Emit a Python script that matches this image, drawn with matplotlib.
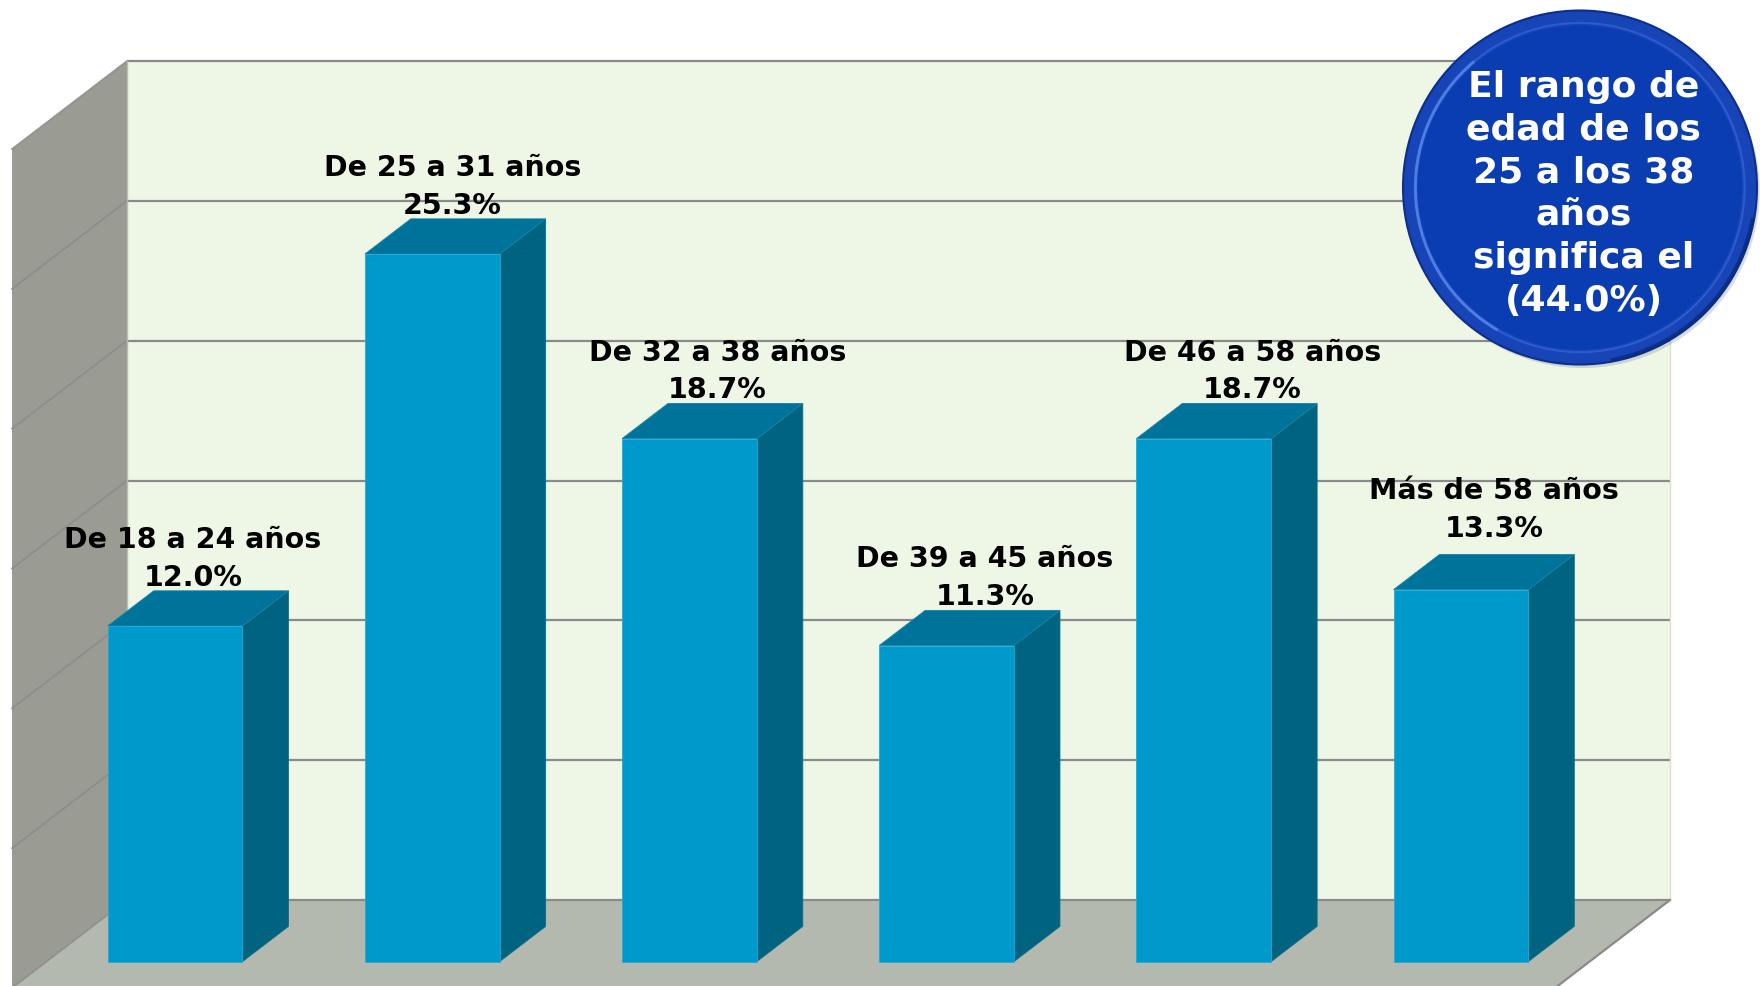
import matplotlib
matplotlib.use("Agg")
import matplotlib.pyplot as plt
from matplotlib.patches import Polygon, Circle, Arc

# ---- data -------------------------------------------------------------
categories = ["De 18 a 24 años", "De 25 a 31 años", "De 32 a 38 años",
              "De 39 a 45 años", "De 46 a 58 años", "Más de 58 años"]
values = [12.0, 25.3, 18.7, 11.3, 18.7, 13.3]
y_ticks = [0, 5, 10, 15, 20, 25, 30]
callout = "El rango de\nedad de los\n25 a los 38\naños\nsignifica el\n(44.0%)"

# small manual nudges for the data labels (category units, value units)
label_dx = [-0.02, -0.01, 0.02, 0.06, 0.10, 0.04]
label_dy = [0.0, 0.0, 0.0, 0.0, 0.0, 0.45]

# ---- style ------------------------------------------------------------
BACK = "#EEF6E6"
LEFT = "#9A9C93"
FLOOR = "#B4B9AF"
GRID = "#8A8A8A"
FRONT = "#0099CC"
TOP = "#00739A"
SIDE = "#00637F"

W_PX, H_PX, DPI = 1760, 987, 100
fig = plt.figure(figsize=(W_PX / DPI, H_PX / DPI), dpi=DPI)
fig.patch.set_facecolor("white")
ax = fig.add_axes([0, 0, 1, 1])
ax.set_axis_off()

n = len(values)
ymax = y_ticks[-1]
# plot area on the back wall, in pixels
left_px, right_px, top_px, base_px = 127, 1670, 62, 901
sx = (right_px - left_px) / n
sy = (base_px - top_px) / ymax
ax.set_xlim(-left_px / sx, n + (W_PX - right_px) / sx)
ax.set_ylim(-(H_PX - base_px) / sy, ymax + top_px / sy)

# oblique depth offsets for the full depth of the box
DX = -115 / sx
DY = -88 / sy


def proj(x, y, d):
    return (x + DX * d, y + DY * d)


# walls and floor
ax.add_patch(Polygon([(0, 0), (n, 0), (n, ymax), (0, ymax)],
                     closed=True, fc=BACK, ec="none", zorder=1))
ax.add_patch(Polygon([(0, 0), (0, ymax), proj(0, ymax, 1), proj(0, 0, 1)],
                     closed=True, fc=LEFT, ec="none", zorder=1))
ax.add_patch(Polygon([(0, 0), (n, 0), proj(n, 0, 1), proj(0, 0, 1)],
                     closed=True, fc=FLOOR, ec="none", zorder=1))

# gridlines on the back wall and across the side wall
for t in y_ticks:
    ax.plot([0, n], [t, t], color=GRID, lw=1.6, zorder=2,
            solid_capstyle="butt")
    p = proj(0, t, 1)
    ax.plot([0, p[0]], [t, p[1]], color=GRID, lw=1.3, alpha=0.8, zorder=2)
ax.plot([0, 0], [0, ymax], color="#B8BCB2", lw=1.0, zorder=2)
ax.plot([n, n], [0, ymax], color="#D8E2CE", lw=1.0, zorder=2)
p = proj(n, 0, 1)
ax.plot([n, p[0]], [0, p[1]], color=GRID, lw=1.6, zorder=2)

# 3-D bars
bw = 0.524
d_back, d_front = 0.3, 0.7
for i, v in enumerate(values):
    x0 = i + 0.5 - bw / 2
    x1 = i + 0.5 + bw / 2
    side = [proj(x1, 0, d_front), proj(x1, 0, d_back),
            proj(x1, v, d_back), proj(x1, v, d_front)]
    top = [proj(x0, v, d_front), proj(x1, v, d_front),
           proj(x1, v, d_back), proj(x0, v, d_back)]
    front = [proj(x0, 0, d_front), proj(x1, 0, d_front),
             proj(x1, v, d_front), proj(x0, v, d_front)]
    ax.add_patch(Polygon(side, closed=True, fc=SIDE, ec="#0A6F8E",
                         lw=0.6, zorder=3))
    ax.add_patch(Polygon(top, closed=True, fc=TOP, ec="#1683A6",
                         lw=0.6, zorder=3))
    ax.add_patch(Polygon(front, closed=True, fc=FRONT, ec="#25A8D6",
                         lw=0.6, zorder=4))

    lx = proj(i + 0.5, v, 0.5)[0]
    ly = proj(0, v, d_back)[1]
    ax.text(lx + label_dx[i], ly + label_dy[i], f"{categories[i]}\n{v:.1f}%",
            ha="center", va="bottom", fontsize=20.5, fontweight="bold",
            color="black", linespacing=1.45, family="DejaVu Sans", zorder=6)

# callout badge
cx, cy, r = 1580, 188.5, 177
bx = fig.add_axes([(cx - r) / W_PX, (H_PX - cy - r) / H_PX,
                   2 * r / W_PX, 2 * r / H_PX])
bx.set_xlim(-1, 1)
bx.set_ylim(-1, 1)
bx.set_aspect("equal")
bx.set_axis_off()
bx.add_patch(Circle((0.015, -0.02), 1.0, fc="#0a1f55", alpha=0.15,
                    ec="none", clip_on=False, zorder=1))
bx.add_patch(Circle((0, 0), 1.0, fc="#1744B6", ec="#0D2F8C", lw=1.5,
                    clip_on=False, zorder=2))
bx.add_patch(Arc((0, 0), 1.86, 1.86, theta1=0, theta2=360,
                 color="#3A6CDD", lw=1.5, alpha=0.6, clip_on=False, zorder=3))
bx.add_patch(Arc((0, 0), 1.86, 1.86, theta1=130, theta2=240,
                 color="#5C8EF2", lw=2.2, alpha=0.7, clip_on=False, zorder=3))
bx.add_patch(Arc((0, 0), 1.98, 1.98, theta1=280, theta2=350,
                 color="#0B2A7E", lw=2.5, alpha=0.8, clip_on=False, zorder=3))
bx.add_patch(Circle((0, 0), 0.915, fc="#0A3CB2", ec="none",
                    clip_on=False, zorder=4))
bx.text(0.02, -0.03, callout, ha="center", va="center", color="white",
        fontsize=26, fontweight="bold", linespacing=1.33,
        family="DejaVu Sans", zorder=5)

fig.savefig("out.png", dpi=DPI, facecolor="white")
